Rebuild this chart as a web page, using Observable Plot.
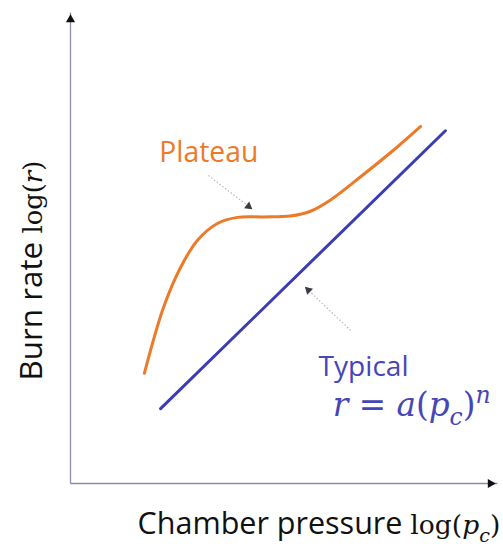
<!DOCTYPE html>
<html><head><meta charset="utf-8">
<script src="https://cdn.jsdelivr.net/npm/d3@7"></script>
<script src="https://cdn.jsdelivr.net/npm/@observablehq/plot@0.6"></script>
<style>body{margin:0;background:#fff}</style>
</head><body><div id="chart"></div>
<script>
// Data (arbitrary log units, 0..10 on both axes)
const plateauX = [1.73, 2.18, 2.58, 2.97, 3.44, 3.91, 4.52, 5.15, 5.62, 6.09, 6.86, 7.66, 8.20];
const plateauY = [2.34, 3.74, 4.59, 5.16, 5.52, 5.65, 5.66, 5.68, 5.78, 6.02, 6.56, 7.15, 7.58];
const typicalX = [2.11, 8.78];
const typicalY = [1.59, 7.49];
const annotations = [
  {label: "Plateau", x1: 3.23, y1: 6.54, x2: 4.29, y2: 5.80},
  {label: "Typical", x1: 6.56, y1: 3.25, x2: 5.46, y2: 4.20}
];
const labels = {
  plateau: "Plateau", typical: "Typical", formula: "r = a(pc)n",
  xLabel: "Chamber pressure log(pc)", yLabel: "Burn rate log(r)"
};

const W = 503, H = 546, mL = 70, mR = 6, mT = 12, mB = 63;
const kx = (W - mL - mR) / 10, ky = (H - mT - mB) / 10;
const ORANGE = "#ec7a28", BLUE = "#3c3cb4", TBLUE = "#4646b8", AXIS = "#8c8cab";
const SANS = "'Open Sans', Lato, sans-serif";
const SERIF = "'DejaVu Serif', 'Liberation Serif', serif";

const plateau = plateauX.map((x, i) => ({x, y: plateauY[i]}));
const typical = typicalX.map((x, i) => ({x, y: typicalY[i]}));

// arrowhead centre positions (triangle apex at the tip)
const apex = 6.5;
const heads = annotations.map(a => {
  const dxp = (a.x2 - a.x1) * kx, dyp = -(a.y2 - a.y1) * ky;
  const len = Math.hypot(dxp, dyp);
  const ux = dxp / len, uy = dyp / len;
  return {
    x: a.x2 - ux * apex / kx, y: a.y2 + uy * apex / ky,
    rotate: Math.atan2(ux, -uy) * 180 / Math.PI
  };
});
const shafts = annotations.map((a, i) => ({x1: a.x1, y1: a.y1, x2: heads[i].x, y2: heads[i].y}));

const plot = Plot.plot({
  width: W, height: H,
  marginLeft: mL, marginRight: mR, marginTop: mT, marginBottom: mB,
  x: {domain: [0, 10], axis: null},
  y: {domain: [0, 10], axis: null},
  style: {background: "#fff"},
  marks: [
    // axes
    Plot.link([{x1: 0, y1: 0, x2: 0, y2: 10}, {x1: 0, y1: 0, x2: 10, y2: 0}],
      {x1: "x1", y1: "y1", x2: "x2", y2: "y2", stroke: AXIS, strokeWidth: 1.3}),
    Plot.dot([{x: 0, y: 10}], {x: "x", y: "y", symbol: "triangle2", r: 4.4, fill: "#111", dy: 7}),
    Plot.dot([{x: 10, y: 0}], {x: "x", y: "y", symbol: "triangle2", r: 4.4, fill: "#111", dx: -7, rotate: 90}),
    // curves
    Plot.line(plateau, {x: "x", y: "y", stroke: ORANGE, strokeWidth: 3, curve: "catmull-rom"}),
    Plot.line(typical, {x: "x", y: "y", stroke: BLUE, strokeWidth: 3}),
    // annotation arrows
    Plot.link(shafts, {x1: "x1", y1: "y1", x2: "x2", y2: "y2", stroke: "#b8b8b8", strokeWidth: 1.2, strokeDasharray: "1.5,2"}),
    Plot.dot(heads, {x: "x", y: "y", symbol: "triangle2", r: 4, fill: "#3a3e44", rotate: "rotate"}),
    // labels
    Plot.text([labels.plateau], {x: 2.08, y: 6.82, text: d => d, textAnchor: "start", lineAnchor: "bottom", fill: ORANGE, fontSize: 28, fontFamily: SANS}),
    Plot.text([labels.typical], {x: 5.81, y: 2.29, text: d => d, textAnchor: "start", lineAnchor: "bottom", fill: TBLUE, fontSize: 28, fontFamily: SANS}),
    Plot.text([labels.formula], {x: 6.14, y: 1.44, text: d => d, textAnchor: "start", lineAnchor: "bottom", fill: TBLUE, fontSize: 28, fontFamily: SERIF}),
    Plot.text([labels.xLabel], {x: 1.57, y: -1.08, text: d => d, textAnchor: "start", lineAnchor: "bottom", fill: "#111", fontSize: 28, fontFamily: SANS}),
    Plot.text([labels.yLabel], {x: -0.66, y: 4.52, text: d => d, textAnchor: "middle", lineAnchor: "bottom", rotate: -90, fill: "#111", fontSize: 28, fontFamily: SANS})
  ]
});
document.getElementById("chart").appendChild(plot);

// Rich text (italic math, subscripts, superscripts), each group fitted to a target width
function rich(plain, groups) {
  d3.select(plot).selectAll("text").filter(function() { return this.textContent === plain; })
    .each(function() {
      const t = d3.select(this);
      let sizes = groups.map(() => 28);
      const build = () => {
        t.text(null);
        let shift = 0;
        return groups.map((g, gi) => {
          const base = sizes[gi];
          return g.parts.map(([s, kind]) => {
            const ts = t.append("tspan").text(s)
              .attr("font-family", g.family)
              .attr("font-size", base);
            let target = 0;
            if (kind.includes("sub")) { target = base * 0.28; ts.attr("font-size", base * 0.72); }
            if (kind.includes("sup")) { target = -base * 0.40; ts.attr("font-size", base * 0.72); }
            if (target !== shift) { ts.attr("dy", target - shift); shift = target; }
            if (kind.includes("it")) ts.attr("font-style", "italic");
            return ts.node();
          });
        });
      };
      const spans = build();
      sizes = sizes.map((s, i) => s * groups[i].target / d3.sum(spans[i], n => n.getComputedTextLength()));
      build();
    });
}
rich(labels.plateau, [{family: SANS, target: 99, parts: [["Plateau", ""]]}]);
rich(labels.typical, [{family: SANS, target: 90, parts: [["Typical", ""]]}]);
rich(labels.formula, [{family: SERIF, target: 158, parts: [["r", "it"], [" = ", ""], ["a", "it"], ["(", ""], ["p", "it"], ["c", "it sub"], [")", ""], ["n", "it sup"]]}]);
rich(labels.xLabel, [
  {family: SANS, target: 273, parts: [["Chamber pressure ", ""]]},
  {family: SERIF, target: 90, parts: [["log(", ""], ["p", "it"], ["c", "it sub"], [")", ""]]}
]);
rich(labels.yLabel, [
  {family: SANS, target: 147, parts: [["Burn rate ", ""]]},
  {family: SERIF, target: 73, parts: [["log(", ""], ["r", "it"], [")", ""]]}
]);
</script>
</body></html>
